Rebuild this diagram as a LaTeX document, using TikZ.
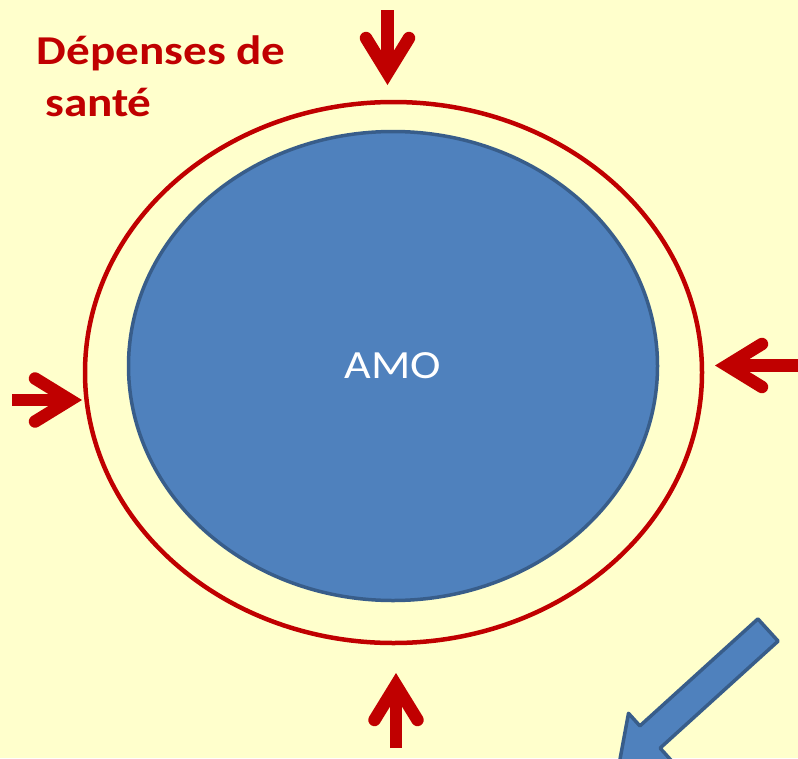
\documentclass[tikz,border=0pt]{standalone}
\usepackage{fontspec}
\setmainfont{Carlito}
\usetikzlibrary{shapes.geometric,arrows.meta}
\definecolor{fondjaune}{HTML}{FFFFCC}
\definecolor{rougedep}{HTML}{C00000}
\definecolor{bleuamo}{HTML}{4F81BD}
\definecolor{bleubord}{HTML}{385D8A}
\begin{document}
\begin{tikzpicture}[x=1pt,y=-1pt]
\tikzset{pousse/.style={draw=rougedep, line width=12.5,
  -{Straight Barb[length=35, width=43, line cap=round, line join=miter]}},
  titre/.style={text=rougedep, font=\fontsize{41}{48}\bfseries, inner sep=0, anchor=base west}}
\useasboundingbox (0,0) rectangle (798,758);
\clip (0,0) rectangle (798,758);
\fill[fondjaune] (0,0) rectangle (798,758);
\node[draw=rougedep, line width=4.5, ellipse, minimum width=617, minimum height=541, inner sep=0] (depenses) at (393.5,372.5) {};
\node[draw=bleubord, fill=bleuamo, line width=3.5, ellipse, minimum width=529, minimum height=469, inner sep=0,
  text=white, font=\fontsize{40}{46}\selectfont] (amo) at (393,366) {\scalebox{1.15}[1]{AMO}};
\node[titre] (titre1) at (36.5,64) {\scalebox{1.15}[1]{Dépenses de}};
\node[titre] (titre2) at (45,116) {\scalebox{1.15}[1]{santé}};
\coordinate (haut0) at (387.5,10);
\coordinate (haut1) at (387.5,85);
\coordinate (gauche0) at (12,400);
\coordinate (gauche1) at (82,400);
\coordinate (droite0) at (800,365.5);
\coordinate (droite1) at (715,365.5);
\coordinate (bas0) at (396,748);
\coordinate (bas1) at (396,673);
\draw[pousse] (haut0) -- (haut1);
\draw[pousse] (gauche0) -- (gauche1);
\draw[pousse] (droite0) -- (droite1);
\draw[pousse] (bas0) -- (bas1);
\draw[draw=bleubord, fill=bleuamo, line width=3.5, line join=round]
  (757.9,618.9) -- (639.9,725.9) -- (628.5,713.3) -- (618.9,765.2)
  -- (671.5,760.7) -- (660.1,748.1) -- (778.1,641.1) -- cycle;
\end{tikzpicture}
\end{document}
